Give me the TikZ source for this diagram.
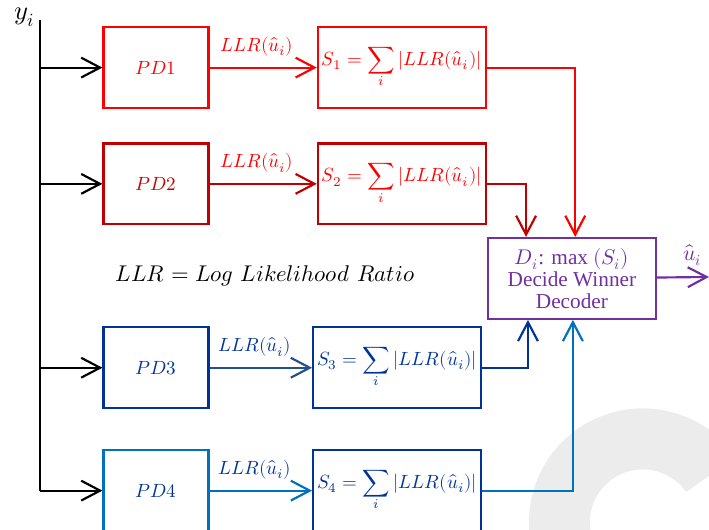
\documentclass[tikz,border=0pt]{standalone}
\usepackage{fontspec}
\usepackage{unicode-math}
\setmathfont{Latin Modern Math}
\newfontfamily\decfont{Liberation Serif}
\usetikzlibrary{arrows.meta,positioning}
\definecolor{pdred}{RGB}{255,0,0}
\definecolor{pddarkred}{RGB}{192,0,0}
\definecolor{pdblue}{RGB}{0,51,153}
\definecolor{pdsteel}{RGB}{36,80,140}
\definecolor{pdlight}{RGB}{0,112,192}
\definecolor{pdpurple}{RGB}{112,48,160}
\definecolor{markgray}{RGB}{236,236,236}

\begin{document}
\begin{tikzpicture}[->, >={Straight Barb[length=4mm,width=4.2mm]}, line width=1.3pt,
        node distance=5.2cm, auto, font=\fontsize{11.5}{13}\selectfont,
        pdbox/.style={draw, rectangle, minimum width=2.22cm, minimum height=1.71cm, inner sep=0pt},
        sumbox/.style={pdbox, minimum width=3.55cm},
        decbox/.style={sumbox, align=center, font=\decfont\fontsize{12.8}{13.2}\selectfont},
        llrlabel/.style={pos=0.44, yshift=3pt}]
        \useasboundingbox (0,0) rectangle (15,-11.213);
        \clip (0,0) rectangle (15,-11.213);

        % watermark
        \coordinate (wm) at (13.60,-11.05);
        \fill[markgray] (wm) ++(200:2.41) arc[start angle=200, end angle=35, radius=2.41]
              -- ([shift={(35:1.12)}]wm) arc[start angle=35, end angle=200, radius=1.12] -- cycle;

        \node[font=\fontsize{16}{18}\selectfont] (yi) at (0.53,-0.36) {$y_i$};
        \coordinate (bus) at (0.846,-0.42);

        \node[pdbox, pdred] (PD1) at (3.30,-1.43) {$PD1$};
        \node[sumbox, pdred] (S1) [right of=PD1] {$S_1 = \displaystyle\sum_i |LLR(\hat{u}_i)|$};
        \node[pdbox, pddarkred] (PD2) [below of=PD1, node distance=2.46cm] {$PD2$};
        \node[sumbox, draw=pddarkred, text=pdred] (S2) [right of=PD2] {$S_2 = \displaystyle\sum_i |LLR(\hat{u}_i)|$};
        \node[pdbox, pdblue] (PD3) [below of=PD2, node distance=3.89cm] {$PD3$};
        \node[sumbox, pdblue] (S3) [right of=PD3, node distance=5.1cm] {$S_3 = \displaystyle\sum_i |LLR(\hat{u}_i)|$};
        \node[pdbox, draw=pdlight, text=pdblue] (PD4) [below of=PD3, node distance=2.60cm] {$PD4$};
        \node[sumbox, pdblue] (S4) [right of=PD4, node distance=5.1cm] {$S_4 = \displaystyle\sum_i |LLR(\hat{u}_i)|$};
        \node[decbox, pdpurple] (Dec) at (12.10,-5.89) {$D_i$: max $(S_i)$\\Decide Winner\\Decoder};
        \node[font=\fontsize{13.7}{15}\selectfont] (legend) at (5.61,-5.84) {$LLR = Log\ Likelihood\ Ratio$};
        \coordinate (out) at (15,-5.86);

        \draw[-] (bus) -- (bus |- PD4);
        \draw (bus |- PD1) -- (PD1);
        \draw (bus |- PD2) -- (PD2);
        \draw (bus |- PD3) -- (PD3);
        \draw (bus |- PD4) -- (PD4);

        \path (PD1) edge[pdred] node[llrlabel] {$LLR(\hat{u}_i)$} (S1)
              (PD2) edge[pddarkred] node[llrlabel, pdred] {$LLR(\hat{u}_i)$} (S2)
              (PD3) edge[pdsteel] node[llrlabel, pdblue] {$LLR(\hat{u}_i)$} (S3)
              (PD4) edge[pdlight] node[llrlabel, pdblue] {$LLR(\hat{u}_i)$} (S4);

        \draw[pdred] (S1) -| ([xshift=0.07cm]Dec.north);
        \draw[pddarkred] (S2) -| ([xshift=-0.97cm]Dec.north);
        \draw[pdblue] (S3) -| ([xshift=-0.93cm]Dec.south);
        \draw[pdlight] (S4) -| ([xshift=0.02cm]Dec.south);
        \draw[pdpurple] (Dec) -- (out) node[above left, xshift=-0.02cm, yshift=0.1cm, font=\fontsize{13}{15}\selectfont] {$\hat{u}_i$};
\end{tikzpicture}
\end{document}
